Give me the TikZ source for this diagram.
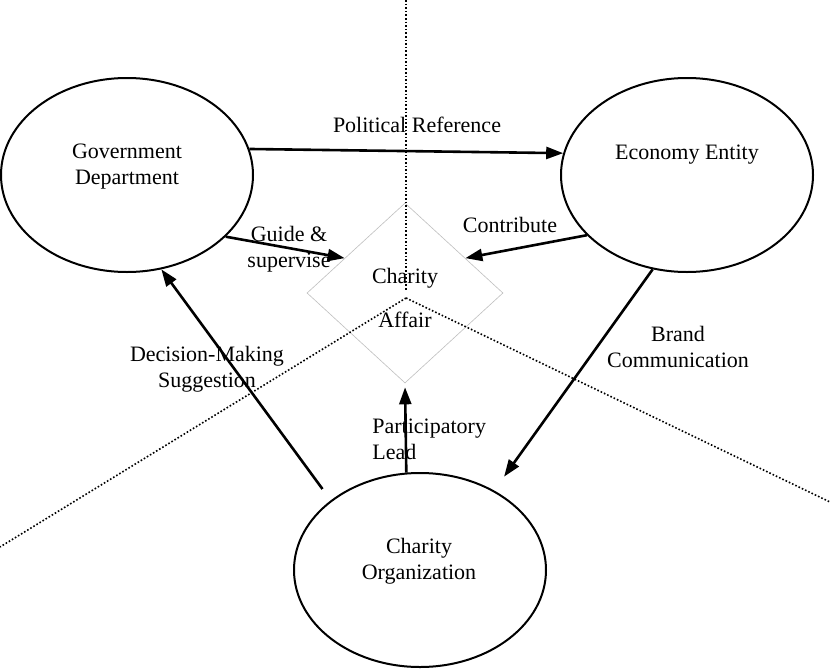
\documentclass[tikz,border=0pt]{standalone}
\usepackage{fontspec}
\setmainfont{Liberation Serif}
\usetikzlibrary{shapes.geometric,arrows.meta}
\begin{document}
\begin{tikzpicture}[x=0.5pt,y=-0.5pt,
        el/.style  ={draw, ellipse, line width=1pt, fill=white, minimum width=126pt, minimum height=97pt, inner sep=0pt},
        dia/.style ={draw=black!25, diamond, line width=0.3pt, fill=white, minimum width=98pt, minimum height=90pt, inner sep=0pt},
        txt/.style ={font=\fontsize{11}{13}\selectfont, inner sep=0pt, align=center},
        arr/.style ={line width=1.3pt, -{Triangle[length=8.5pt,width=6pt]}},
        dots/.style={line width=0.8pt, dash pattern=on 0.8pt off 1pt}]
        \useasboundingbox[fill=white] (0,0) rectangle (830,669);
        \foreach \n/\x/\y in {gov/127/175, econ/687/175, org/420/570} {\node[el] (\n) at (\x,\y){};}
        \node[dia] (affair) at (405,293){};
        \node[txt] (govtxt)    at (127,167){Government\\Department};
        \node[txt] (econtxt)   at (687,155){Economy Entity};
        \node[txt] (orgtxt)    at (419,561){Charity\\Organization};
        \node[txt] (affairtxt) at (405,298){Charity\\[9pt]Affair};
% Trennlinien (gepunktet)
        \coordinate (vtop) at (406,0);   \coordinate (vend) at (406,291);
        \coordinate (hub)  at (406,298);
        \coordinate (dl)   at (0,547);   \coordinate (dr)   at (830,502);
        \draw[dots] (vtop) -- (vend);
        \draw[dots] (hub) -- (dl);
        \draw[dots] (hub) -- (dr);
        \node[txt] (lpol)     at (417,125){Political Reference};
        \node[txt] (lguide)   at (289,249){Guide \&\\supervise};
        \node[txt] (lcontrib) at (510,225){Contribute};
        \node[txt] (lbrand)   at (678,347){Brand\\Communication};
        \node[txt, align=left, anchor=west] (lpart) at (372,439){Participatory\\Lead};
        \node[txt] (ldec)     at (207,369){Decision-Making\\Suggestion};
        \draw[arr] (gov.12)   -- (econ.170);
        \draw[arr] (gov.-32)  -- (affair.150);
        \draw[arr] (econ.-149) -- (affair.30);
        \draw[arr, shorten >=8.5pt] (econ.-110) -- (org.47);
        \draw[arr, shorten >=2pt] (org.98) -- (affair.south);
        \draw[arr, shorten <=7pt] (org.142) -- (gov.-70);
    \end{tikzpicture}
\end{document}
